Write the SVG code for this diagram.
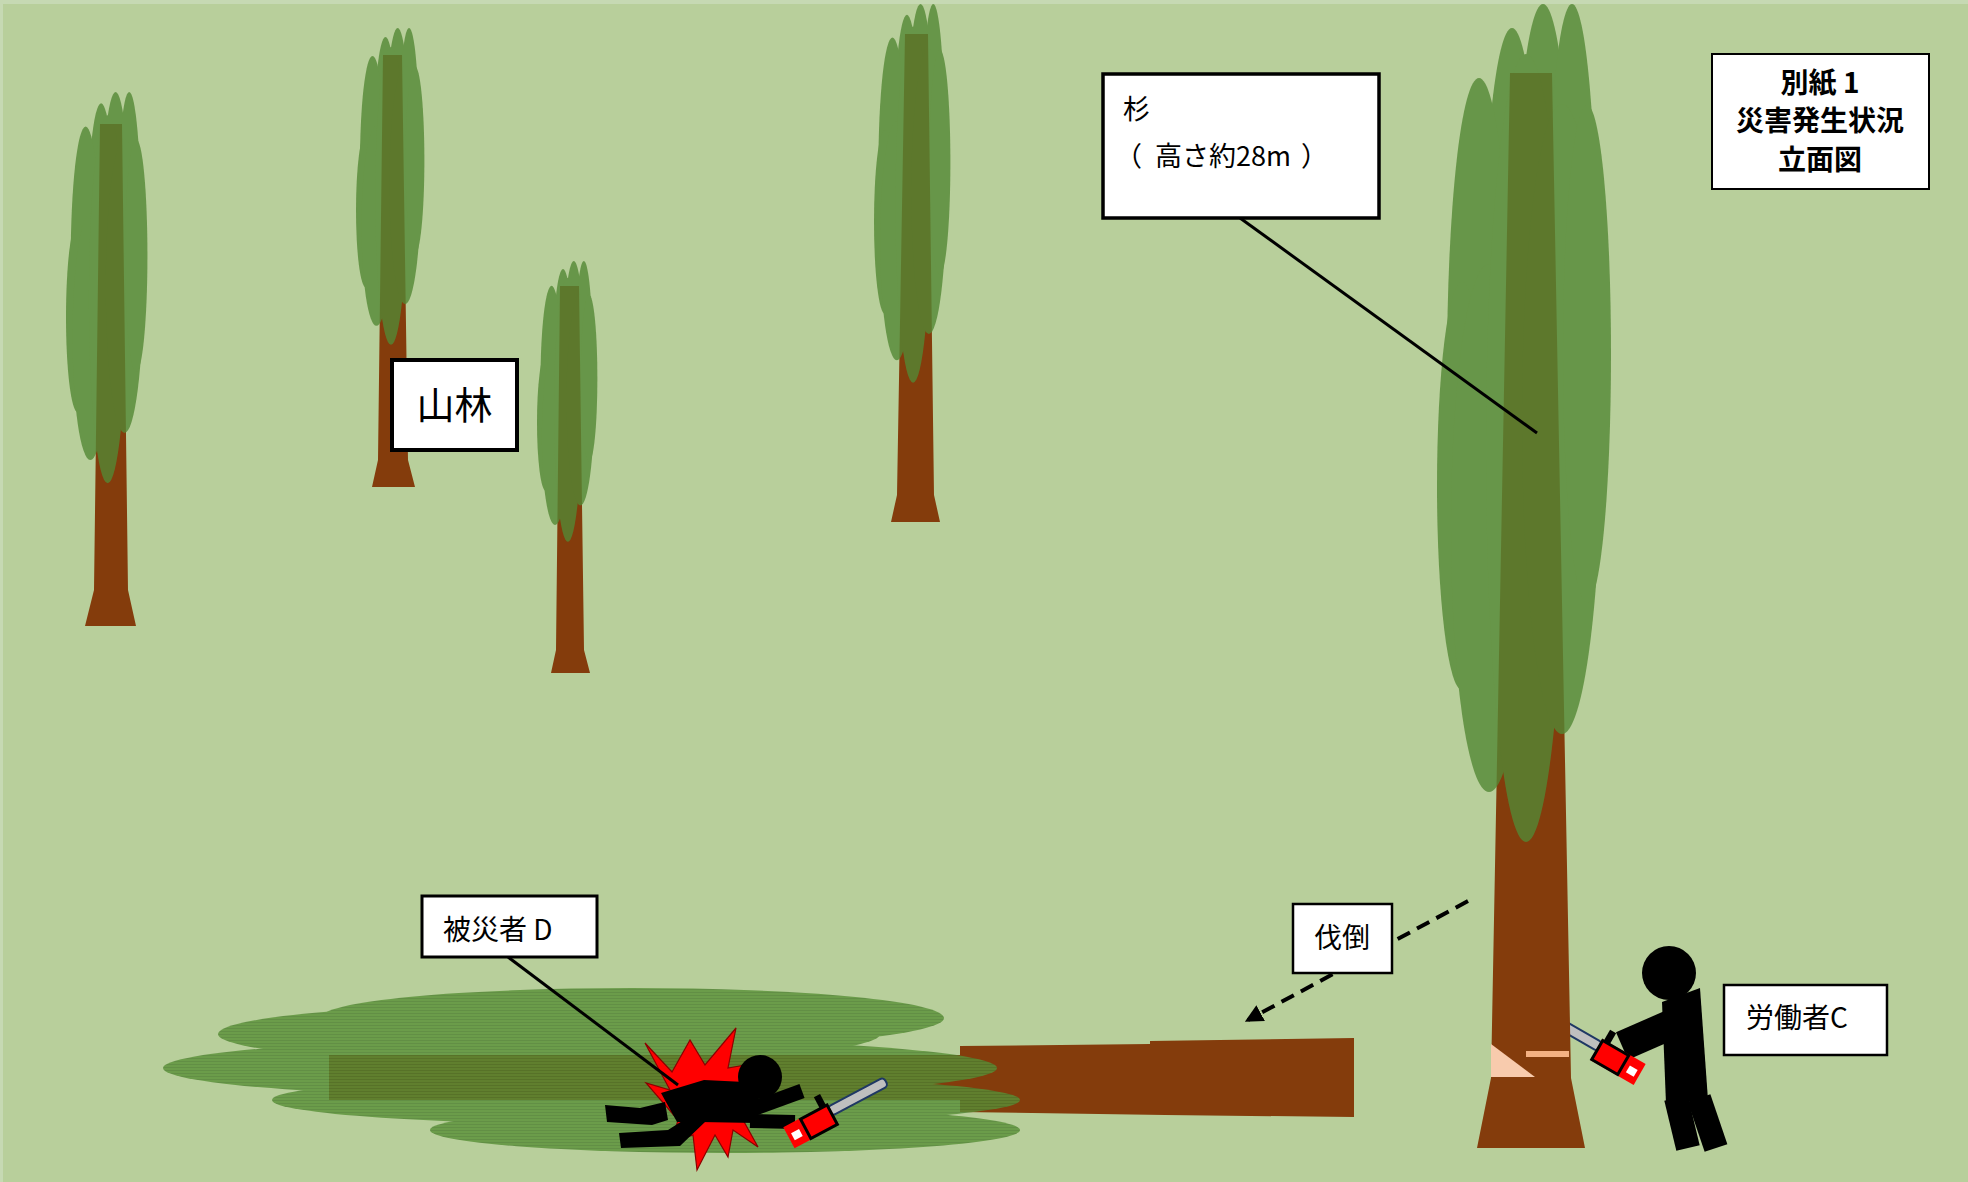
<svg xmlns="http://www.w3.org/2000/svg" xmlns:xlink="http://www.w3.org/1999/xlink" width="1968" height="1182" viewBox="0 0 1968 1182">
  <style>
    .crown { fill: #548835; }
    .trunk { fill: #843c0c; }
    .box { fill: #ffffff; stroke: #000000; }
    .lbl { font-family: "Noto Sans CJK JP", "Noto Sans", sans-serif; fill: #000000; }
    .body { fill: #000000; }
    .limb { fill: none; stroke: #000000; stroke-linecap: butt; stroke-linejoin: round; }
    .lead { fill: none; stroke: #000000; stroke-width: 3; }
  </style>
  <defs>
    <!-- cedar crown, drawn at full size (173 x 838), scaled per tree -->
    <symbol id="crownShape" overflow="visible">
      <ellipse cx="106" cy="300" rx="30" ry="300"/>
      <ellipse cx="135" cy="280" rx="25" ry="280"/>
      <ellipse cx="75" cy="324" rx="30" ry="300"/>
      <ellipse cx="42" cy="364" rx="32" ry="290"/>
      <ellipse cx="25" cy="482" rx="25" ry="204"/>
      <ellipse cx="52" cy="524" rx="38" ry="264"/>
      <ellipse cx="89" cy="444" rx="40" ry="394"/>
      <ellipse cx="125" cy="415" rx="40" ry="315"/>
      <ellipse cx="150" cy="350" rx="24" ry="249"/>
    </symbol>
    <!-- chainsaw: body centred on origin, guide bar towards -x -->
    <symbol id="saw" overflow="visible">
      <rect x="-87" y="-9" width="64" height="10" rx="4" fill="#bfbfbf" stroke="#1f3864" stroke-width="2"/>
      <rect x="-25" y="-12" width="50" height="24" fill="#ff0000"/>
      <rect x="-24" y="-11" width="30" height="22" fill="none" stroke="#000000" stroke-width="3"/>
      <rect x="-23" y="-24" width="7" height="13" fill="#000000"/>
      <rect x="12" y="-3" width="9" height="8" fill="#ffffff"/>
    </symbol>
    <pattern id="leafTex" width="4" height="3" patternUnits="userSpaceOnUse">
      <rect width="4" height="3" fill="#589037"/>
      <rect y="2" width="4" height="1" fill="#4d8030"/>
    </pattern>
    <marker id="arrowHead" viewBox="0 0 10 10" refX="8" refY="5" markerWidth="4.5" markerHeight="4.5" orient="auto">
      <path d="M0,0 L10,5 L0,10 z" fill="#000000"/>
    </marker>
  </defs>

  <!-- ground -->
  <rect x="0" y="0" width="1968" height="1182" fill="#c6d9b3"/>
  <rect x="3" y="4" width="1965" height="1178" fill="#b8cf9b"/>

  <!-- standing cedars -->
  <g id="tree-1">
    <polygon class="trunk" points="100,124 122,124 128,590 136,626 85,626 94,590"/>
    <use xlink:href="#crownShape" class="crown" opacity="0.8" transform="translate(66,92) scale(0.468,0.467)"/>
  </g>
  <g id="tree-2">
    <polygon class="trunk" points="383,55 402,55 408,460 415,487 372,487 378,460"/>
    <use xlink:href="#crownShape" class="crown" opacity="0.8" transform="translate(356,28) scale(0.393,0.378)"/>
  </g>
  <g id="tree-3">
    <polygon class="trunk" points="560,286 579,286 584,650 590,673 551,673 556,650"/>
    <use xlink:href="#crownShape" class="crown" opacity="0.8" transform="translate(537,261) scale(0.347,0.335)"/>
  </g>
  <g id="tree-4">
    <polygon class="trunk" points="905,34 928,34 934,495 940,522 891,522 897,495"/>
    <use xlink:href="#crownShape" class="crown" opacity="0.8" transform="translate(874,4) scale(0.439,0.452)"/>
  </g>

  <!-- worker C with chainsaw -->
  <g id="worker-c">
    <line class="limb" x1="1676" y1="1098" x2="1688" y2="1148" stroke-width="24"/>
    <line class="limb" x1="1699" y1="1098" x2="1716" y2="1148" stroke-width="24"/>
    <polygon class="body" points="1662,1002 1700,988 1708,1100 1666,1104"/>
    <line class="limb" x1="1686" y1="1018" x2="1622" y2="1046" stroke-width="30"/>
    <circle class="body" cx="1669" cy="973" r="27"/>
    <use xlink:href="#saw" transform="translate(1618,1062) rotate(30)"/>
  </g>

  <!-- the cedar being felled -->
  <g id="cedar-felled">
    <polygon class="trunk" points="1510,73 1552,73 1571,1078 1585,1148 1477,1148 1491,1078"/>
    <polygon points="1491,1044 1491,1077 1535,1077" fill="#f8cbad"/>
    <rect x="1526" y="1051" width="43" height="6" fill="#f4b183"/>
    <use xlink:href="#crownShape" class="crown" opacity="0.8" transform="translate(1437,4)"/>
  </g>

  <!-- fallen cedar -->
  <g id="fallen-tree">
    <rect class="trunk" x="329" y="1055" width="671" height="45"/>
    <polygon class="trunk" points="960,1046 1150,1044 1150,1041 1354,1038 1354,1117 1165,1115 960,1112"/>
    <g opacity="0.8" fill="url(#leafTex)">
      <ellipse cx="632" cy="1018" rx="312" ry="30"/>
      <ellipse cx="549" cy="1034" rx="331" ry="30"/>
      <ellipse cx="580" cy="1068" rx="417" ry="30"/>
      <ellipse cx="646" cy="1100" rx="374" ry="25"/>
      <ellipse cx="725" cy="1130" rx="295" ry="23"/>
    </g>
  </g>

  <!-- victim D struck by the tree -->
  <g id="victim-d">
    <polygon fill="#ff0000" stroke="#8b0000" stroke-width="1.2" points="645,1043 672,1072 690,1040 705,1065 736,1028 728,1068 762,1062 740,1090 765,1110 742,1118 758,1147 733,1130 728,1157 715,1135 697,1170 693,1135 672,1142 678,1120 646,1083 670,1090"/>
    <polygon class="body" points="605,1105 607,1122 652,1125 668,1120 665,1102 640,1108"/>
    <polygon class="body" points="619,1133 621,1148 680,1146 705,1122 690,1116 668,1130"/>
    <polygon class="body" points="661,1093 704,1080 745,1082 760,1100 756,1123 700,1122 677,1122"/>
    <line class="limb" x1="750" y1="1110" x2="802" y2="1091" stroke-width="15"/>
    <line class="limb" x1="750" y1="1121" x2="795" y2="1122" stroke-width="14"/>
    <circle class="body" cx="760" cy="1077" r="22"/>
    <use xlink:href="#saw" transform="translate(811,1126) rotate(-28) scale(-1,1)"/>
  </g>

  <!-- leader lines and felling direction -->
  <g id="connectors">
    <line class="lead" x1="1240" y1="218" x2="1537" y2="433"/>
    <line class="lead" x1="508" y1="957" x2="678" y2="1085"/>
    <line x1="1468" y1="901" x2="1248" y2="1020" stroke="#000000" stroke-width="4" stroke-dasharray="14 8" marker-end="url(#arrowHead)"/>
  </g>

  <!-- labels -->
  <g id="label-title">
    <rect class="box" x="1712" y="54" width="217" height="135" stroke-width="2"/>
    <text class="lbl" x="1820" y="93" font-size="28" font-weight="bold" text-anchor="middle">別紙 1</text>
    <text class="lbl" x="1820" y="131" font-size="28" font-weight="bold" text-anchor="middle">災害発生状況</text>
    <text class="lbl" x="1820" y="170" font-size="28" font-weight="bold" text-anchor="middle">立面図</text>
  </g>
  <g id="label-cedar">
    <rect class="box" x="1103" y="74" width="276" height="144" stroke-width="3.5"/>
    <text class="lbl" x="1123" y="119" font-size="27">杉</text>
    <text class="lbl" y="166" font-size="27"><tspan x="1115">（</tspan><tspan x="1155">高さ約28m</tspan><tspan x="1301">）</tspan></text>
  </g>
  <g id="label-forest">
    <rect class="box" x="392" y="360" width="125" height="90" stroke-width="4"/>
    <text class="lbl" x="454.5" y="419" font-size="38" text-anchor="middle">山林</text>
  </g>
  <g id="label-victim">
    <rect class="box" x="422" y="896" width="175" height="61" stroke-width="3"/>
    <text class="lbl" x="443" y="940" font-size="28">被災者 D</text>
  </g>
  <g id="label-felling">
    <rect class="box" x="1293" y="904" width="99" height="69" stroke-width="2.5"/>
    <text class="lbl" x="1314" y="948" font-size="28">伐倒</text>
  </g>
  <g id="label-worker">
    <rect class="box" x="1724" y="985" width="163" height="70" stroke-width="2.5"/>
    <text class="lbl" x="1746" y="1028" font-size="28">労働者C</text>
  </g>
</svg>
